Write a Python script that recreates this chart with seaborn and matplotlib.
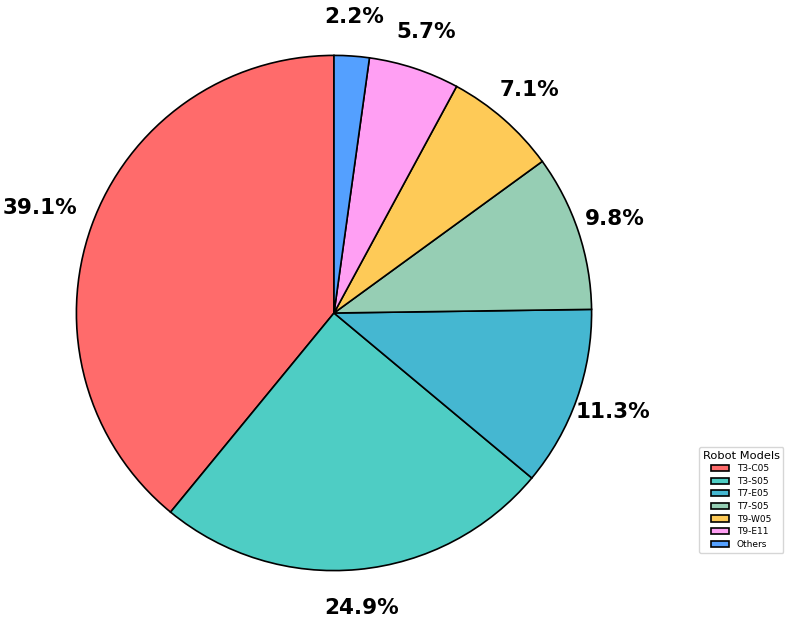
import matplotlib
matplotlib.use("Agg")
import matplotlib.pyplot as plt
import seaborn as sns

# Anteile der Robotermodelle
models = ["T3-C05", "T3-S05", "T7-E05", "T7-S05", "T9-W05", "T9-E11", "Others"]
shares = [39.1, 24.9, 11.3, 9.8, 7.1, 5.7, 2.2]
colors = ["#FF6B6B", "#4ECDC4", "#45B7D1", "#96CEB4", "#FECA57", "#FF9FF3", "#54A0FF"]

sns.set_theme(style="white", rc={"text.color": "black"})
plt.rcParams["font.family"] = ["DejaVu Sans"]

fig = plt.figure(figsize=(7.93, 6.24), dpi=100)
ax = fig.add_axes([12 / 793, -11 / 624, 644 / 793, 644 / 624])

wedges, texts, autotexts = ax.pie(
    shares,
    colors=colors,
    startangle=90,
    autopct="%1.1f%%",
    pctdistance=1.15,
    wedgeprops=dict(edgecolor="black", linewidth=1.2),
    textprops=dict(fontsize=15.5, fontweight="bold", color="black"),
)
ax.set_aspect("equal")

# groesstes Stueck: Label etwas weiter nach aussen
x, y = autotexts[0].get_position()
autotexts[0].set_position((x * 1.055, y * 1.055))

ax.legend(
    wedges, models,
    title="Robot Models",
    loc="center left",
    bbox_to_anchor=(1.06, 0.21),
    fontsize=6.5,
    title_fontsize=8.2,
    frameon=True,
    labelspacing=0.4,
    handlelength=2.0,
)

fig.savefig("out.png", dpi=100)
